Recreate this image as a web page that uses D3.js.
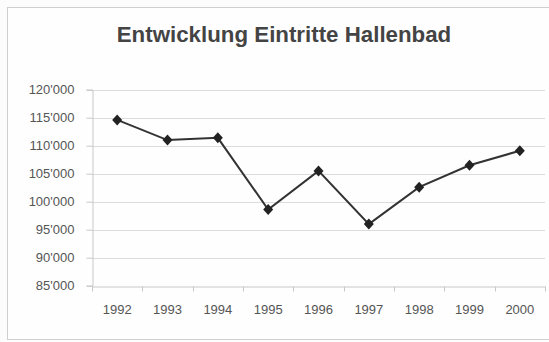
<!DOCTYPE html>
<html>
<head>
<meta charset="utf-8">
<script src="https://cdn.jsdelivr.net/npm/d3@7"></script>
<style>
  html, body { margin: 0; padding: 0; background: #fcfcfc; }
  svg { display: block; }
</style>
</head>
<body>
<svg id="chart" width="549" height="342"></svg>
<script>
const years = ["1992", "1993", "1994", "1995", "1996", "1997", "1998", "1999", "2000"];
const entries = [114600, 111000, 111400, 98600, 105500, 96000, 102600, 106500, 109100];
const yTicks = [85000, 90000, 95000, 100000, 105000, 110000, 115000, 120000];
const titleText = "Entwicklung Eintritte Hallenbad";

const svg = d3.select("#chart");
const W = 549, H = 342;
const margin = { left: 92, right: 4, top: 89.7, bottom: 56.3 };

// frame
svg.append("rect").attr("x", 7.5).attr("y", 7.5).attr("width", 545).attr("height", 332)
  .attr("fill", "#fefefe").attr("stroke", "#cfcfcf").attr("stroke-width", 1);

const x = d3.scaleBand().domain(years).range([margin.left, W - margin.right]).padding(0);
const y = d3.scaleLinear().domain([85000, 120000]).range([H - margin.bottom, margin.top]);

const fmt = v => d3.format(",")(v).replace(/,/g, "'");

// gridlines
svg.append("g").selectAll("line").data(yTicks.slice(1)).join("line")
  .attr("x1", margin.left).attr("x2", W - margin.right)
  .attr("y1", d => Math.round(y(d)) + 0.5).attr("y2", d => Math.round(y(d)) + 0.5)
  .attr("stroke", "#dcdcdc").attr("stroke-width", 1);

// y axis
const yAxis = svg.append("g").attr("transform", `translate(${margin.left + 0.5},0)`)
  .call(d3.axisLeft(y).tickValues(yTicks).tickFormat(fmt).tickSize(6).tickPadding(12));
yAxis.select(".domain").attr("stroke", "#c8c8c8");
yAxis.selectAll(".tick line").attr("stroke", "#c8c8c8");
yAxis.selectAll(".tick text").attr("font-family", "Liberation Sans, Arial, sans-serif")
  .attr("font-size", 13).attr("fill", "#555");

// x axis
const xAxis = svg.append("g").attr("transform", `translate(0,${Math.round(y(85000)) + 0.5})`)
  .call(d3.axisBottom(x).tickSize(0).tickPadding(18));
xAxis.select(".domain").attr("stroke", "#c8c8c8");
xAxis.selectAll(".tick text").attr("font-family", "Liberation Sans, Arial, sans-serif")
  .attr("font-size", 13).attr("fill", "#555");
// category boundary ticks
xAxis.append("g").selectAll("line").data(years.concat(["end"])).join("line")
  .attr("x1", (d, i) => Math.round(i < years.length ? x(d) : x(years[years.length - 1]) + x.bandwidth()) + 0.5)
  .attr("x2", (d, i) => Math.round(i < years.length ? x(d) : x(years[years.length - 1]) + x.bandwidth()) + 0.5)
  .attr("y1", 0).attr("y2", 5).attr("stroke", "#c8c8c8");

// line
const cx = d => x(d) + x.bandwidth() / 2;
const line = d3.line().x((d, i) => cx(years[i])).y(d => y(d));
svg.append("path").datum(entries).attr("d", line)
  .attr("fill", "none").attr("stroke", "#333").attr("stroke-width", 2);

// markers
svg.append("g").selectAll("path").data(entries).join("path")
  .attr("transform", (d, i) => `translate(${cx(years[i])},${y(d)})`)
  .attr("d", "M0,-5.5L5,0L0,5.5L-5,0Z")
  .attr("fill", "#222");

// title
svg.append("text").attr("x", 284).attr("y", 41.5).attr("text-anchor", "middle")
  .attr("font-family", "Liberation Sans, Arial, sans-serif").attr("font-weight", "bold")
  .attr("font-size", 22.3).attr("fill", "#444").text(titleText);
</script>
</body>
</html>
